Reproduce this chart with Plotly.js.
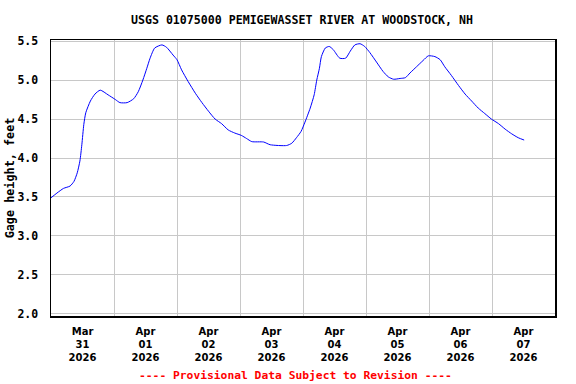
<!DOCTYPE html>
<html>
<head>
<meta charset="utf-8">
<script src="https://cdn.plot.ly/plotly-3.0.1.min.js"></script>
<style>html,body{margin:0;padding:0;background:#fff}#chart{width:576px;height:384px}</style>
</head>
<body>
<div id="chart"></div>
<script>
// Gage height readings (feet)
const times = [
  '2026-03-31 00:00','2026-03-31 02:15','2026-03-31 04:45','2026-03-31 07:15','2026-03-31 08:45',
  '2026-03-31 10:00','2026-03-31 11:00','2026-03-31 11:45','2026-03-31 12:30','2026-03-31 13:15',
  '2026-03-31 15:00','2026-03-31 16:45','2026-03-31 18:45','2026-03-31 21:45',
  '2026-04-01 00:30','2026-04-01 02:15','2026-04-01 05:00','2026-04-01 07:30','2026-04-01 09:15',
  '2026-04-01 11:00','2026-04-01 12:30','2026-04-01 13:45','2026-04-01 15:30','2026-04-01 18:15',
  '2026-04-01 20:00','2026-04-01 22:30',
  '2026-04-02 00:00','2026-04-02 01:45','2026-04-02 04:15','2026-04-02 07:00','2026-04-02 09:30',
  '2026-04-02 12:00','2026-04-02 14:30','2026-04-02 17:00','2026-04-02 19:30','2026-04-02 22:00',
  '2026-04-03 00:30','2026-04-03 02:30','2026-04-03 04:30','2026-04-03 09:00','2026-04-03 11:30',
  '2026-04-03 17:45','2026-04-03 19:45','2026-04-03 21:30','2026-04-03 23:15',
  '2026-04-04 00:45','2026-04-04 02:45','2026-04-04 04:15','2026-04-04 05:15','2026-04-04 06:15',
  '2026-04-04 07:00','2026-04-04 08:30','2026-04-04 10:00','2026-04-04 11:30','2026-04-04 14:00',
  '2026-04-04 16:15','2026-04-04 18:00','2026-04-04 19:45','2026-04-04 21:45','2026-04-04 23:30',
  '2026-04-05 01:30','2026-04-05 04:00','2026-04-05 06:30','2026-04-05 08:30','2026-04-05 10:30',
  '2026-04-05 13:00','2026-04-05 15:00','2026-04-05 16:45','2026-04-05 19:15','2026-04-05 21:45',
  '2026-04-05 23:45','2026-04-06 02:15','2026-04-06 04:15','2026-04-06 06:00','2026-04-06 08:30',
  '2026-04-06 11:15','2026-04-06 13:45','2026-04-06 16:15','2026-04-06 18:45','2026-04-06 21:15',
  '2026-04-06 23:45','2026-04-07 02:30','2026-04-07 05:00','2026-04-07 07:30','2026-04-07 10:00',
  '2026-04-07 12:15'
];
const gageHeight = [
  3.49,3.55,3.61,3.64,3.70,
  3.81,3.96,4.17,4.43,4.58,
  4.73,4.82,4.87,4.81,
  4.75,4.71,4.71,4.76,4.85,
  5.00,5.15,5.28,5.41,5.45,
  5.42,5.32,
  5.26,5.13,4.98,4.83,4.71,
  4.60,4.50,4.44,4.36,4.32,
  4.29,4.25,4.21,4.205,4.17,
  4.16,4.19,4.26,4.34,
  4.46,4.64,4.81,5.00,5.15,
  5.30,5.41,5.43,5.39,5.28,
  5.28,5.37,5.45,5.465,5.43,
  5.35,5.23,5.11,5.04,5.01,
  5.02,5.03,5.09,5.17,5.25,
  5.31,5.30,5.26,5.17,5.06,
  4.93,4.82,4.73,4.64,4.57,
  4.50,4.44,4.37,4.31,4.26,
  4.23
];
// X tick labels (placed at noon of each day)
const tickDates = ['2026-03-31 12:00','2026-04-01 12:00','2026-04-02 12:00','2026-04-03 12:00',
                   '2026-04-04 12:00','2026-04-05 12:00','2026-04-06 12:00','2026-04-07 12:00'];
const tickLabels = ['Mar<br>31<br>2026','Apr<br>01<br>2026','Apr<br>02<br>2026','Apr<br>03<br>2026',
                    'Apr<br>04<br>2026','Apr<br>05<br>2026','Apr<br>06<br>2026','Apr<br>07<br>2026'];
const yTickVals = [2.0, 2.5, 3.0, 3.5, 4.0, 4.5, 5.0, 5.5];
const titleText = 'USGS 01075000 PEMIGEWASSET RIVER AT WOODSTOCK, NH';
const yTitle = 'Gage height, feet';
const noteText = '---- Provisional Data Subject to Revision ----';

const FONT = 'DejaVu Sans Mono';

const trace = {
  x: times, y: gageHeight, type: 'scatter', mode: 'lines',
  line: {color: '#0000ff', width: 1, shape: 'spline', smoothing: 0.6},
  hoverinfo: 'skip'
};

const layout = {
  width: 576, height: 384,
  margin: {l: 51, r: 21, t: 40, b: 68},
  paper_bgcolor: '#ffffff', plot_bgcolor: '#ffffff',
  showlegend: false,
  font: {family: FONT, size: 11.5, color: '#000', weight: 'bold'},
  title: {text: titleText, x: 302 / 576, xanchor: 'center', xref: 'container',
          y: 1 - 20 / 384, yref: 'container', yanchor: 'middle',
          font: {family: FONT, size: 11.6, color: '#000', weight: 'bold'}},
  xaxis: {
    type: 'date', range: ['2026-03-31 00:00', '2026-04-08 00:00'],
    tickmode: 'array', tickvals: tickDates, ticktext: tickLabels,
    showgrid: false, ticks: 'outside', ticklen: 5, tickcolor: 'rgba(0,0,0,0)',
    tickfont: {family: 'DejaVu Sans', size: 10, color: '#000', weight: 'bold'},
    minor: {dtick: 86400000, tick0: '2026-03-31 00:00', showgrid: true, gridcolor: '#c8c8c8', gridwidth: 1, ticks: ''},
    showline: true, linecolor: '#000', linewidth: 1.5, mirror: true, zeroline: false, fixedrange: true
  },
  yaxis: {
    range: [1.974, 5.513], tickmode: 'array',
    tickvals: yTickVals, tickformat: '.1f',
    showgrid: true, gridcolor: '#c8c8c8', gridwidth: 1,
    ticks: 'outside', ticklen: 9, tickcolor: 'rgba(0,0,0,0)',
    tickfont: {family: FONT, size: 11.5, color: '#000', weight: 'bold'},
    title: {text: yTitle, standoff: 0, font: {family: FONT, size: 11.8, color: '#000', weight: 'bold'}},
    showline: true, linecolor: '#000', linewidth: 1.5, mirror: true, zeroline: false, fixedrange: true
  },
  annotations: [{
    text: noteText, xref: 'paper', yref: 'paper',
    x: (295 - 51) / 504, y: (316 - 375) / 276, xanchor: 'center', yanchor: 'middle',
    showarrow: false, font: {family: FONT, size: 11.3, color: '#ff0000', weight: 'bold'}
  }]
};

Plotly.newPlot('chart', [trace], layout, {staticPlot: true, displayModeBar: false});
</script>
</body>
</html>
